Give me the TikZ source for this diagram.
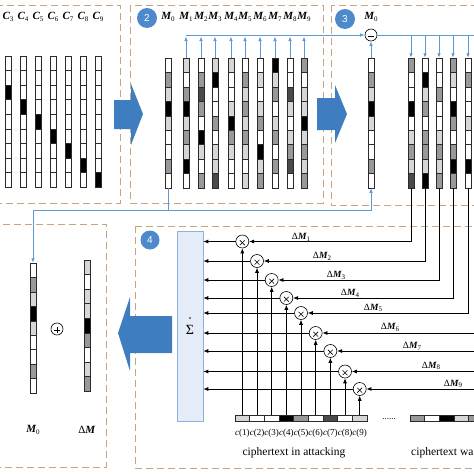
\documentclass[tikz,border=0pt]{standalone}
\usepackage{fontspec}
\setmainfont{Liberation Serif}
\newfontfamily\numfont{Liberation Sans}
\usetikzlibrary{arrows.meta}
\definecolor{boxc}{HTML}{C9A47F}
\definecolor{bluel}{HTML}{5E98D6}
\definecolor{bigblue}{HTML}{3F7DC1}
\definecolor{numblue}{HTML}{4E8ACB}
\definecolor{sigfill}{HTML}{E3ECF7}
\definecolor{sigdraw}{HTML}{8FB2DC}
\definecolor{celledge}{HTML}{2A2A2A}
\definecolor{cW}{HTML}{FFFFFF}
\definecolor{cL}{HTML}{D6D6D6}
\definecolor{cG}{HTML}{999999}
\definecolor{cD}{HTML}{4A4A4A}
\definecolor{cK}{HTML}{000000}
\newcommand\Bsub[2]{\textbf{\textit{#1}}\kern-0.3pt\raisebox{-0.4ex}{\fontsize{7}{8}\selectfont #2}}
\newcommand\colstrip[5]{%
  \foreach \cc [count=\ii from 0] in {#5}{%
    \filldraw[fill=\cc, draw=celledge, line width=0.5pt] ({#2-3},{#3+\ii*#4/9}) rectangle ({#2+3},{#3+(\ii+1)*#4/9});
  }%
  \node[colbox, minimum height=#4pt] (#1) at (#2,{#3+#4/2}) {};
}
\begin{document}
\begin{tikzpicture}[x=1pt,y=-1pt,
  dbox/.style={draw=boxc, line width=1pt, dash pattern=on 7pt off 4pt},
  bline/.style={draw=bluel, line width=0.8pt},
  barrow/.style={bline, -{Latex[length=4.5pt,width=3.6pt]}},
  kline/.style={draw=black, line width=0.7pt},
  karrow/.style={kline, -{Latex[length=5pt,width=4pt]}},
  colbox/.style={rectangle, draw=celledge, line width=0.5pt, minimum width=6pt, inner sep=0pt},
  numc/.style={circle, fill=numblue, text=white, minimum size=20pt, inner sep=0pt, font=\numfont\fontsize{10}{10}\selectfont},
  lab/.style={inner sep=0pt, font=\fontsize{11}{13}\selectfont},
  dlab/.style={inner sep=0pt, font=\fontsize{9.5}{11}\selectfont},
  clab/.style={inner sep=0pt, font=\fontsize{9}{11}\selectfont},
  cell/.style={rectangle, draw=celledge, line width=0.5pt, minimum width=14.67pt, minimum height=6pt, inner sep=0pt},
  opc/.style={circle, draw, line width=0.6pt, fill=white, inner sep=0pt},
  mult/.style={opc, minimum size=13pt, path picture={
    \fill ([yshift=3.3pt]path picture bounding box.center) circle[radius=0.75pt];
    \draw[line width=0.6pt] ([xshift=-2.4pt,yshift=-3.6pt]path picture bounding box.center) -- ([xshift=2.4pt,yshift=1.2pt]path picture bounding box.center);
    \draw[line width=0.6pt] ([xshift=2.4pt,yshift=-3.6pt]path picture bounding box.center) -- ([xshift=-2.4pt,yshift=1.2pt]path picture bounding box.center);}},
  minusc/.style={opc, minimum size=12pt, path picture={
    \fill ([yshift=2.6pt]path picture bounding box.center) circle[radius=0.75pt];
    \draw[line width=0.6pt] ([xshift=-3.2pt,yshift=-1.2pt]path picture bounding box.center) -- ([xshift=3.2pt,yshift=-1.2pt]path picture bounding box.center);}},
  plusc/.style={opc, minimum size=12pt, path picture={
    \fill ([yshift=3.2pt]path picture bounding box.center) circle[radius=0.75pt];
    \draw[line width=0.6pt] ([xshift=-3pt,yshift=-1.2pt]path picture bounding box.center) -- ([xshift=3pt,yshift=-1.2pt]path picture bounding box.center);
    \draw[line width=0.6pt] ([yshift=-4.2pt]path picture bounding box.center) -- ([yshift=1.8pt]path picture bounding box.center);}}
]
\useasboundingbox (0,0) rectangle (474,474);
\clip (0,0) rectangle (474,474);

% dashed panels
\draw[dbox] (-5,5) rectangle (120,203);
\draw[dbox] (130,5) rectangle (323,203);
\draw[dbox] (331,5) rectangle (485,205);
\draw[dbox] (-5,224) rectangle (106,467);
\draw[dbox] (135,226) rectangle (485,468);

% block arrows
\fill[bigblue] (114,100) -- (131,100) -- (131,84) -- (143,114) -- (131,145) -- (131,129) -- (114,129) -- cycle;
\fill[bigblue] (317,98) -- (335,98) -- (335,85) -- (347,114) -- (335,143) -- (335,130) -- (317,130) -- cycle;
\fill[bigblue] (172,316) -- (130,316) -- (130,297) -- (118,333) -- (130,371) -- (130,353) -- (172,353) -- cycle;

% panel 1
\colstrip{c3}{8}{56}{131}{cW,cW,cK,cW,cW,cW,cW,cW,cW}
\colstrip{c4}{23}{56}{131}{cW,cW,cW,cK,cW,cW,cW,cW,cW}
\colstrip{c5}{38}{56}{131}{cW,cW,cW,cW,cK,cW,cW,cW,cW}
\colstrip{c6}{53}{56}{131}{cW,cW,cW,cW,cW,cK,cW,cW,cW}
\colstrip{c7}{68}{56}{131}{cW,cW,cW,cW,cW,cW,cK,cW,cW}
\colstrip{c8}{83}{56}{131}{cW,cW,cW,cW,cW,cW,cW,cK,cW}
\colstrip{c9}{98}{56}{131}{cW,cW,cW,cW,cW,cW,cW,cW,cK}
\foreach \k/\xx in {3/8,4/23,5/38,6/53,7/68,8/83,9/98}{
  \node[lab] (lc\k) at (\xx,17) {\Bsub{C}{\k}};
}

% panel 2
\node[numc] (n2) at (147,18) {2};
\colstrip{m0}{168}{58}{130}{cW,cG,cL,cK,cL,cW,cW,cG,cW}
\colstrip{m1}{186}{58}{130}{cL,cW,cG,cK,cL,cG,cL,cK,cW}
\colstrip{m2}{201}{58}{130}{cW,cG,cD,cG,cW,cK,cL,cW,cG}
\colstrip{m3}{215}{58}{130}{cL,cK,cW,cW,cG,cW,cL,cL,cD}
\colstrip{m4}{231}{58}{130}{cL,cW,cW,cL,cK,cG,cL,cW,cW}
\colstrip{m5}{245}{58}{130}{cW,cG,cL,cG,cL,cG,cL,cW,cL}
\colstrip{m6}{260}{58}{130}{cW,cL,cW,cL,cG,cW,cK,cL,cG}
\colstrip{m7}{275}{58}{130}{cK,cL,cG,cW,cL,cG,cW,cG,cW}
\colstrip{m8}{290}{58}{130}{cW,cW,cD,cL,cW,cL,cG,cD,cW}
\colstrip{m9}{304}{58}{130}{cG,cW,cL,cL,cK,cL,cG,cL,cG}
\foreach \k/\xx in {0/168,1/186,2/201,3/215,4/231,5/245,6/260,7/275,8/290,9/304}{
  \node[lab] (lm\k) at (\xx,17) {\Bsub{M}{\k}};
}

% panel 3
\node[numc] (n3) at (345,19) {3};
\node[lab] (lp3) at (371,17) {\Bsub{M}{0}};
\node[minusc] (minus) at (371,35) {};
\colstrip{p3m0}{371}{58}{130}{cW,cG,cL,cK,cL,cW,cW,cG,cW}
\colstrip{d1}{411}{58}{130}{cG,cW,cW,cK,cW,cL,cG,cL,cD}
\colstrip{d2}{425}{58}{130}{cW,cK,cL,cG,cW,cG,cG,cL,cK}
\colstrip{d3}{439}{58}{130}{cW,cW,cG,cW,cW,cL,cG,cL,cG}
\colstrip{d4}{453}{58}{130}{cG,cL,cW,cK,cG,cW,cG,cK,cG}
\colstrip{d5}{468}{58}{130}{cW,cG,cW,cW,cL,cW,cW,cK,cW}
\colstrip{d6}{477}{58}{130}{cG,cG,cG,cG,cG,cG,cG,cG,cG}
\coordinate (rightedge) at (490,0);
\coordinate (topline) at (0,36.5);

% blue connectors top
\draw[barrow] (m1.north |- minus.west) -- (minus.west);
\foreach \i in {1,...,9}{
  \draw[barrow] (m\i.north) -- (m\i.north |- topline);
}
\draw[barrow] (p3m0.north) -- (minus.south);
\draw[bline] (minus.east) -- (minus.east -| rightedge);
\foreach \i in {1,...,5}{
  \draw[barrow] (d\i.north |- minus.east) -- (d\i.north);
}

% panel 4 (result)
\colstrip{p4m0}{33}{263}{130}{cW,cG,cL,cK,cL,cW,cW,cG,cW}
\colstrip{dm}{87}{260}{131}{cL,cW,cL,cL,cK,cG,cW,cL,cG}
\node[plusc] (plus) at (57,329) {};
\node[lab] (lm0b) at (33,430) {\Bsub{M}{0}};
\node[lab] (ldm) at (87,430) {Δ\textbf{\textit{M}}};

% blue connector bottom
\coordinate (split) at (168,210);
\draw[bline] (m0.south) -- (split);
\draw[barrow] (split) -| (p4m0.north);
\draw[barrow] (split) -| (p3m0.south);

% panel 5
\node[numc, minimum size=19pt] (n4) at (150,240) {4};
\node[rectangle, draw=sigdraw, fill=sigfill, line width=0.6pt, minimum width=26pt, minimum height=190pt, inner sep=0pt] (sigma) at (190,326) {};
\node[inner sep=0pt, font=\fontsize{14}{14}\selectfont] (sigtxt) at (190,329.5) {Σ};
\fill (190,318) circle[radius=0.8pt];

\foreach \i/\yy/\cc in {1/241.5/cL,2/261/cW,3/280/cW,4/298/cK,5/313/cG,6/333/cW,7/351/cD,8/371.5/cW,9/389/cL}{
  \node[cell, fill=\cc] (c\i) at ({235+(\i-0.5)*14.67},418) {};
  \node[mult] (x\i) at ({235+(\i-0.5)*14.67},\yy) {};
  \node[clab] (lc\i) at ({235+(\i-0.5)*14.67},433) {\textit{c}(\i)};
  \draw[karrow] (c\i.north) -- (x\i.south);
  \draw[karrow] (x\i.west) -- (x\i.west -| sigma.east);
}
\foreach \i in {1,...,5}{
  \draw[karrow] (d\i.south) |- (x\i.east);
}
\foreach \i in {6,...,9}{
  \draw[karrow] (x\i.east -| rightedge) -- (x\i.east);
}
\foreach \i/\xx/\yy in {1/301/237,2/322/256.5,3/336/275.5,4/350/293.5,5/373/308,6/390/327.5,7/412/346,8/431/366,9/453/384}{
  \node[dlab] (ld\i) at (\xx,\yy) {Δ\Bsub{M}{\i}};
}

\foreach \i/\cc in {1/cG,2/cW,3/cK,4/cL,5/cG}{
  \node[cell, fill=\cc] (r\i) at ({410+(\i-0.5)*14.67},418) {};
}
\node[inner sep=0pt, anchor=base, font=\fontsize{9}{11}\selectfont] (dots) at (389,419) {......};
\node[inner sep=0pt, font=\fontsize{11.5}{13}\selectfont] (t1) at (294,453) {ciphertext in attacking};
\node[inner sep=0pt, anchor=west, font=\fontsize{11.5}{13}\selectfont] (t2) at (411,453) {ciphertext wa};
\end{tikzpicture}
\end{document}
